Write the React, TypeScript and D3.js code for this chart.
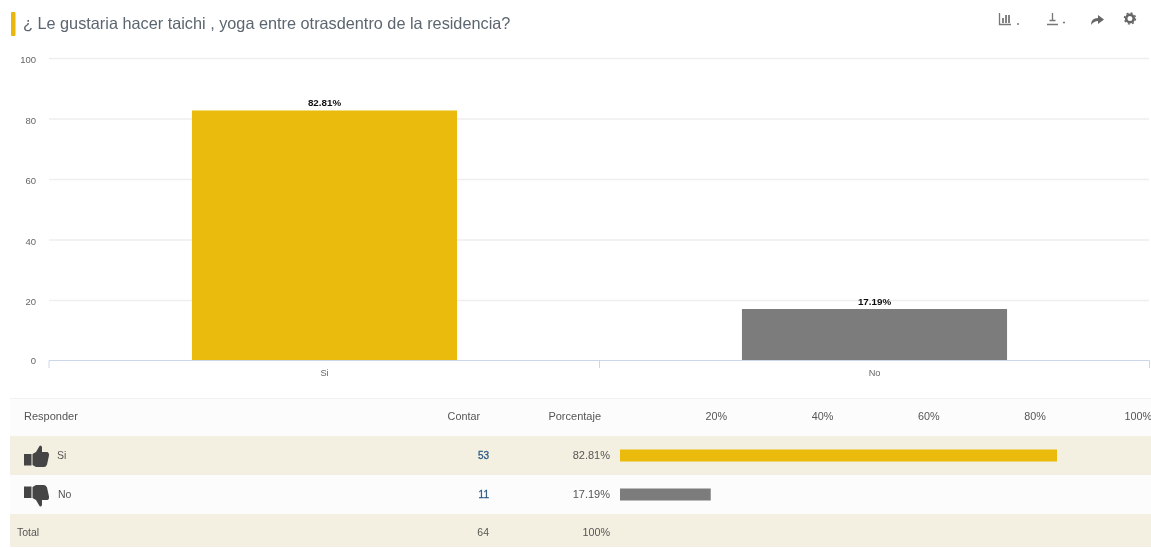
import React from "react";
import * as d3 from "d3";

const title = "¿ Le gustaria hacer taichi , yoga entre otrasdentro de la residencia?";
const categories = ["Si", "No"];
const percents = [82.81, 17.19];
const counts = [53, 11];
const percentLabels = ["82.81%", "17.19%"];
const colors = ["#eabb0a", "#7b7b7b"];
const yTicks = [0, 20, 40, 60, 80, 100];
const barTicks = [20, 40, 60, 80, 100];
const totalCount = 64;
const totalPercent = "100%";
const headers = { answer: "Responder", count: "Contar", percent: "Porcentaje" };

const FONT = "'Liberation Sans', Arial, sans-serif";
const y = d3.scaleLinear().domain([0, 100]).range([361, 58.5]);
const x = d3.scaleBand<string>().domain(categories).range([49.5, 1149.5]);
const barW = x.bandwidth() * 0.482;
const xBar = d3.scaleLinear().domain([0, 100]).range([620, 1147.7]);
const xBarLabel = d3.scaleLinear().domain([20, 100]).range([727, 1152]);
const rows = [
  { top: 436, h: 39, fill: "#f4f0e1" },
  { top: 475, h: 39, fill: "#fcfcfc" },
];

const thumbUp = "M-12 -2.500h7.500v11.500h-7.500z M-3.500 -2.500 L0 -4.500 L3.500 -10.500 Q5 -12 6 -9.500 L6 -4.500 H11.500 Q13.500 -3.500 13 -1 L11 8 Q10 10.500 8 10.500 H0 L-3.500 8.500z";

export default function App() {
  return (
    <svg width={1151} height={548} viewBox="0 0 1151 548"
      style={{ position: "absolute", left: 0, top: 0, background: "#fff", fontFamily: FONT }}>
      <defs>
        <filter id="soft" x="0" y="0" width="100%" height="100%">
          <feGaussianBlur stdDeviation="0.35" />
        </filter>
      </defs>
      <g filter="url(#soft)">
        <rect x={11} y={12} width={4.5} height={24} rx={1} fill="#e8b80c" />
        <text x={23} y={29} fontSize={16.27} fill="#5c6670">{title}</text>

        {/* toolbar */}
        <g stroke="#777" fill="none" strokeWidth={1.3}>
          <path d="M999.500 13V24.500H1011" />
          <path d="M1003 23V18M1006 23V15M1009 23V15" strokeWidth={1.800} />
          <path d="M1017 24h2M1063 22.500h2" />
          <path d="M1047 24.500H1058M1052.500 13V21M1049.500 20.500H1055.500" />
        </g>
        <path d="M1091 25Q1091 18 1098 18V15L1104 19.500L1098 24V21Q1094 21 1091 25z" fill="#666" />
        <circle cx={1130} cy={18.500} r={3.800} fill="none" stroke="#666" strokeWidth={2.600} />
        <circle cx={1130} cy={18.500} r={5.500} fill="none" stroke="#666" strokeWidth={1.400} strokeDasharray="2 2.320" />

        {/* grid */}
        {yTicks.filter(t => t > 0).map(t => (
          <line key={t} x1={49} x2={1149} y1={y(t)} y2={y(t)} stroke="#eeeeee" strokeWidth={1.300} />
        ))}
        {yTicks.map(t => (
          <text key={t} x={36} y={y(t) + (t === 0 ? 3 : 4.500)} fontSize={9.500} textAnchor="end" fill="#666">{t}</text>
        ))}

        {/* axis */}
        <path d="M49 368V360.500H1149.500V368M599.500 360.500V368" fill="none" stroke="#ccd6eb" strokeWidth={1} />

        {/* bars */}
        {categories.map((c, i) => {
          const cx = x(c)! + x.bandwidth() / 2;
          return (
            <g key={c}>
              <rect x={cx - barW / 2} y={y(percents[i])} width={barW} height={360 - y(percents[i])} fill={colors[i]} />
              <text x={cx} y={y(percents[i]) - 4.500} fontSize={9.800} fontWeight={700} textAnchor="middle" fill="#111">{percentLabels[i]}</text>
              <text x={cx} y={375.500} fontSize={9.200} textAnchor="middle" fill="#666">{c}</text>
            </g>
          );
        })}

        {/* table */}
        <rect x={10} y={399} width={1141} height={37} fill="#fcfcfc" />
        <line x1={10} x2={1151} y1={398.500} y2={398.500} stroke="#f0f0f0" />
        <text x={24} y={420} fontSize={11} fill="#555">{headers.answer}</text>
        <text x={480} y={420} fontSize={10.800} fill="#555" textAnchor="end">{headers.count}</text>
        <text x={601} y={420} fontSize={11} fill="#555" textAnchor="end">{headers.percent}</text>
        {barTicks.map(t => (
          <text key={t} x={xBarLabel(t)} y={420} fontSize={10.800} fill="#555" textAnchor="end">{t}%</text>
        ))}

        {categories.map((c, i) => {
          const r = rows[i];
          const mid = r.top + r.h / 2;
          return (
            <g key={c}>
              <rect x={10} y={r.top} width={1141} height={r.h} fill={r.fill} />
              <g transform={i === 0
                ? `translate(36,${mid + 1})`
                : `translate(36,${mid + 1}) scale(1,-1)`} >
                <path d={thumbUp} fill="#444" />
              </g>
              <text x={i === 0 ? 57 : 58} y={mid + 3.500} fontSize={10.500} fill="#555">{c}</text>
              <text x={489} y={mid + 3.500} fontSize={10} fill="#2c5a85" textAnchor="end" stroke="#2c5a85" strokeWidth={0.300}>{counts[i]}</text>
              <text x={610} y={mid + 3.500} fontSize={11} fill="#555" textAnchor="end">{percentLabels[i]}</text>
              <rect x={xBar(0)} y={mid - 6} width={xBar(percents[i]) - xBar(0)} height={12} fill={colors[i]} />
            </g>
          );
        })}

        <rect x={10} y={514} width={1141} height={33} fill="#f4f0e1" />
        <text x={17} y={536} fontSize={10.500} fill="#555">Total</text>
        <text x={489} y={536} fontSize={10.500} fill="#555" textAnchor="end">{totalCount}</text>
        <text x={610} y={536} fontSize={10.800} fill="#555" textAnchor="end">{totalPercent}</text>
      </g>
    </svg>
  );
}
